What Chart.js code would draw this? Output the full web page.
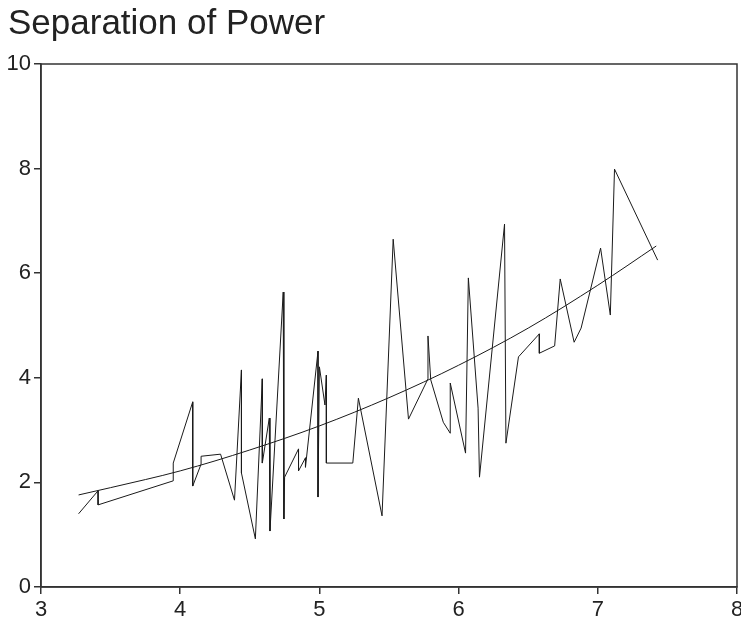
<!DOCTYPE html>
<html>
<head>
<meta charset="utf-8">
<script src="https://cdn.jsdelivr.net/npm/chart.js@4/dist/chart.umd.min.js"></script>
<style>
  html, body { margin: 0; padding: 0; background: #fff; }
  #wrap { width: 741px; height: 626px; position: relative; }
</style>
</head>
<body>
<div id="wrap"><canvas id="c" width="741" height="626"></canvas></div>
<script>
// ---- Data ----
const chartTitle = "Separation of Power";
const xTicks = [3, 4, 5, 6, 7, 8];
const yTicks = [0, 2, 4, 6, 8, 10];

// Observed series (jagged line), in drawing order
const obsX = [3.27, 3.41, 3.41, 3.95, 3.95, 4.09, 4.09, 4.15, 4.15, 4.29,
              4.39, 4.44, 4.44, 4.54, 4.59, 4.59, 4.64, 4.645, 4.74, 4.745,
              4.75, 4.85, 4.85, 4.90, 4.90, 4.99, 4.99, 5.00, 5.04, 5.05,
              5.05, 5.24, 5.28, 5.45, 5.53, 5.64, 5.78, 5.78, 5.80, 5.89,
              5.94, 5.94, 6.05, 6.07, 6.14, 6.15, 6.33, 6.34, 6.43, 6.58,
              6.58, 6.69, 6.73, 6.83, 6.88, 7.02, 7.09, 7.12, 7.43];
const obsY = [1.40, 1.84, 1.57, 2.03, 2.37, 3.54, 1.93, 2.35, 2.50, 2.54,
              1.66, 4.15, 2.18, 0.92, 3.98, 2.37, 3.23, 1.07, 5.64, 1.30,
              2.10, 2.64, 2.22, 2.47, 2.29, 4.51, 1.72, 4.21, 3.48, 4.05,
              2.37, 2.37, 3.61, 1.36, 6.65, 3.21, 3.98, 4.80, 3.96, 3.15,
              2.94, 3.90, 2.56, 5.91, 3.42, 2.10, 6.94, 2.75, 4.40, 4.84,
              4.47, 4.61, 5.89, 4.68, 4.95, 6.48, 5.20, 7.99, 6.25];

// Fitted curve, points
const fitX = [3.27, 3.5, 4.0, 4.5, 5.0, 5.5, 6.0, 6.5, 7.0, 7.42];
const fitY = [1.76, 1.90, 2.22, 2.62, 3.08, 3.62, 4.24, 4.95, 5.77, 6.52];

const obsData = obsX.map((x, i) => ({ x: x, y: obsY[i] }));
const fitData = fitX.map((x, i) => ({ x: x, y: fitY[i] }));

const frame = {
  id: 'frame',
  afterDraw(chart) {
    const a = chart.chartArea, ctx = chart.ctx;
    ctx.save();
    ctx.strokeStyle = '#333';
    ctx.lineWidth = 1.5;
    ctx.strokeRect(a.left, a.top, a.right - a.left, a.bottom - a.top);
    ctx.restore();
  }
};

const FONT = "'Liberation Sans', Arial, Helvetica, sans-serif";

new Chart(document.getElementById('c'), {
  type: 'scatter',
  data: {
    datasets: [
      {
        data: obsData,
        showLine: true,
        borderColor: '#1a1a1a',
        borderWidth: 1,
        pointRadius: 0,
        tension: 0
      },
      {
        data: fitData,
        showLine: true,
        borderColor: '#1a1a1a',
        borderWidth: 1,
        pointRadius: 0,
        cubicInterpolationMode: 'monotone'
      }
    ]
  },
  options: {
    responsive: false,
    animation: false,
    layout: { padding: { left: 8, right: 4, top: 0, bottom: 0 } },
    plugins: {
      legend: { display: false },
      tooltip: { enabled: false },
      title: {
        display: true,
        text: chartTitle,
        align: 'start',
        color: '#222',
        font: { family: FONT, size: 35, weight: 'normal' },
        padding: { top: 3, bottom: 19 }
      }
    },
    scales: {
      x: {
        type: 'linear',
        min: 3, max: 8,
        afterBuildTicks(s) { s.ticks = xTicks.map(v => ({ value: v })); },
        afterFit(s) { s.height = 39; s.paddingRight = 0; s.paddingLeft = 0; },
        grid: { display: true, drawOnChartArea: false, drawTicks: true, tickLength: 7, color: '#333', lineWidth: 1.5 },
        border: { display: true, color: '#333', width: 1.5 },
        ticks: { color: '#222', font: { family: FONT, size: 22 }, padding: 3, maxRotation: 0 }
      },
      y: {
        type: 'linear',
        min: 0, max: 10,
        afterBuildTicks(s) { s.ticks = yTicks.map(v => ({ value: v })); },
        afterFit(s) { s.width = 33; },
        grid: { display: true, drawOnChartArea: false, drawTicks: true, tickLength: 7, color: '#333', lineWidth: 1.5 },
        border: { display: true, color: '#333', width: 1.5 },
        ticks: { color: '#222', font: { family: FONT, size: 22 }, padding: 3 }
      }
    }
  },
  plugins: [frame]
});
</script>
</body>
</html>
